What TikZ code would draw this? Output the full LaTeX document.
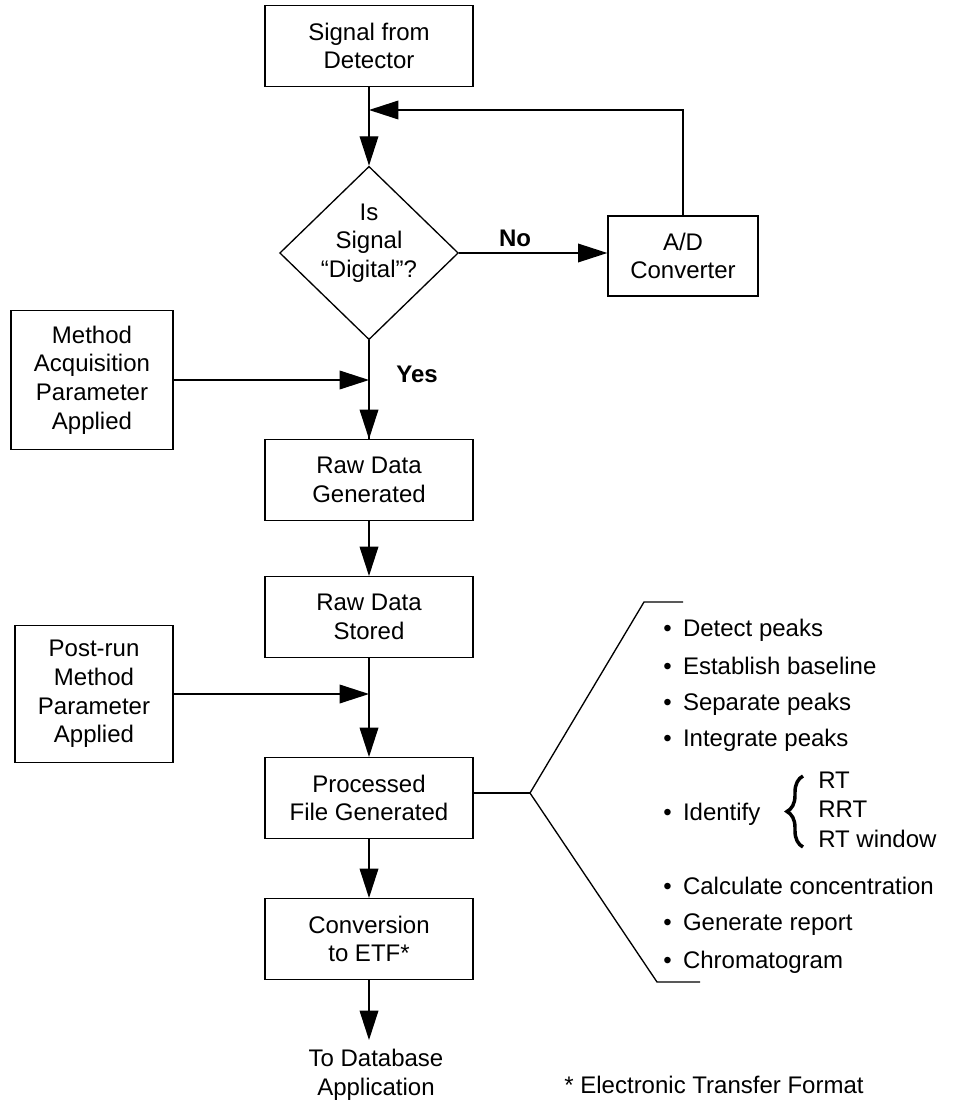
\documentclass[tikz,border=0pt]{standalone}
\usepackage{fontspec}
\setmainfont{Liberation Sans}
\usetikzlibrary{arrows.meta,shapes.geometric,decorations.pathreplacing}

\tikzset{
	box/.style={draw, line width=1pt, minimum width=156pt, minimum height=60.5pt, inner sep=0pt, align=center},
	decision/.style={draw, line width=1pt, diamond, minimum width=134pt, minimum height=130pt, inner sep=0pt},
	arr/.style={line width=1pt, -{Triangle[length=22pt,width=14pt]}},
	plain/.style={line width=1pt},
	item/.style={anchor=base west, inner sep=0pt}
}
\newcommand{\bul}{•\hspace{8.5pt}}

\begin{document}
\begin{tikzpicture}[x=0.75pt,y=0.75pt,yscale=-1,xscale=1, font=\fontsize{18}{21.5}\selectfont]
	\useasboundingbox (0,0) rectangle (971,1105);
	
	%Shape: Rectangle
	\node [box] (signal) at (369,46) {Signal from\\Detector};
	%Shape: Diamond
	\node [decision] (digital) at (369,253) {};
	\node [align=center, inner sep=0pt] (digitaltext) at (369,243) {Is\\Signal\\“Digital”?};
	%Shape: Rectangle
	\node [box, minimum width=112.5pt, minimum height=60pt] (adconv) at (683,256) {A/D\\Converter};
	%Shape: Rectangle
	\node [box, minimum width=121.5pt, minimum height=104pt] (method) at (92,380) {Method\\Acquisition\\Parameter\\Applied};
	%Shape: Rectangle
	\node [box] (rawgen) at (369,480) {Raw Data\\Generated};
	%Shape: Rectangle
	\node [box] (rawstored) at (369,617) {Raw Data\\Stored};
	%Shape: Rectangle
	\node [box, minimum width=118.5pt, minimum height=103pt] (postrun) at (94,694) {Post-run\\Method\\Parameter\\Applied};
	%Shape: Rectangle
	\node [box] (processed) at (369,798) {Processed\\File Generated};
	%Shape: Rectangle
	\node [box] (convert) at (369,939) {Conversion\\to ETF*};
	
	% Text Node
	\node [align=center, inner sep=0pt] (database) at (376,1075) {To Database\\Application};
	% Text Node
	\node [inner sep=0pt] (etfnote) at (714,1085) {* Electronic Transfer Format};
	% Text Node
	\node [inner sep=0pt, font=\fontsize{18}{21.5}\selectfont\bfseries] (nolabel) at (515,238) {No};
	% Text Node
	\node [inner sep=0pt, font=\fontsize{18}{21.5}\selectfont\bfseries] (yeslabel) at (417,374) {Yes};
	
	%Joints on the main line
	\coordinate (loopin) at (369,110);
	\coordinate (methodin) at (369,380);
	\coordinate (postin) at (369,694);
	\coordinate (dbtip) at (369,1040);
	
	%Straight Lines
	\draw [arr] (signal) -- (digital);
	\draw [arr] (digital) -- (adconv.west |- digital);
	\draw [arr] (adconv) |- (loopin);
	\draw [plain] (digital) -- (rawgen);
	\draw [arr] (methodin) -- (rawgen);
	\draw [arr] (method.east |- methodin) -- (methodin);
	\draw [arr] (rawgen) -- (rawstored);
	\draw [plain] (rawstored) -- (postin);
	\draw [arr] (postrun.east |- postin) -- (postin);
	\draw [arr] (postin) -- (processed);
	\draw [arr] (processed) -- (convert);
	\draw [arr] (convert) -- (dbtip);
	
	%Bracket
	\coordinate (fork) at (530,793);
	\coordinate (topbend) at (644,602);
	\coordinate (topend) at (683,602);
	\coordinate (lowbend) at (657,982);
	\coordinate (lowend) at (700,982);
	\draw [plain] (processed.east |- fork) -- (fork);
	\draw [plain] (topend) -- (topbend) -- (fork) -- (lowbend) -- (lowend);
	
	% Text Node
	\node [item] (detect) at (663,636) {\bul Detect peaks};
	\node [item] (baseline) at (663,674) {\bul Establish baseline};
	\node [item] (separate) at (663,710) {\bul Separate peaks};
	\node [item] (integrate) at (663,746) {\bul Integrate peaks};
	\node [item] (identify) at (663,820) {\bul Identify};
	\node [item] (rt) at (818,788) {RT};
	\node [item] (rrt) at (818,817) {RRT};
	\node [item] (rtwindow) at (818,847) {RT window};
	\node [item] (calculate) at (663,894) {\bul Calculate concentration};
	\node [item] (report) at (663,930) {\bul Generate report};
	\node [item] (chromatogram) at (663,968) {\bul Chromatogram};
	
	%Shape: Brace
	\draw [line width=2.6pt, decorate, decoration={brace, amplitude=12pt}] (803,847) -- (803,776);
	
\end{tikzpicture}
\end{document}
